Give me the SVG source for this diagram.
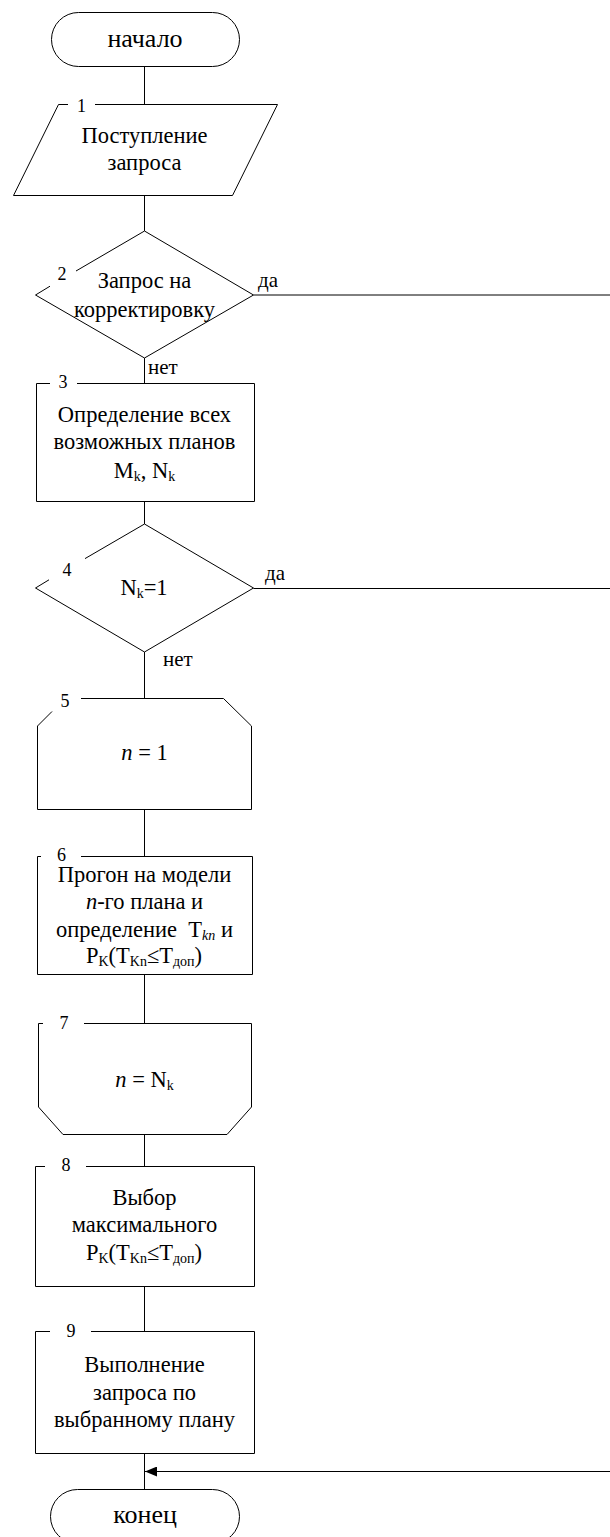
<svg xmlns="http://www.w3.org/2000/svg" width="610" height="1537" viewBox="0 0 610 1537" font-family="'Liberation Serif', 'Times New Roman', 'DejaVu Serif', serif">
<style>
.s{fill:none;stroke:#000;stroke-width:1}
text, tspan{font-family:'Liberation Serif','Times New Roman','DejaVu Serif',serif;fill:#000}
.t{font-size:22.5px;text-anchor:middle}
.tt{font-size:26px;text-anchor:middle}
.n{font-size:18px;text-anchor:middle}
.l{font-size:21px}
.i{font-style:italic}
.sub{font-size:14px}
</style>
<defs>
<marker id="ah" markerWidth="12" markerHeight="10" refX="12" refY="5" orient="auto" markerUnits="userSpaceOnUse">
<path d="M0,0 L12,5 L0,10 Z" fill="#000"/>
</marker>
</defs>
<g id="connectors">
<path class="s" d="M144.5,66 V104 M144.5,195 V231 M144.5,358 V383 M144.5,501 V524 M144.5,652 V698 M144.5,809 V856 M144.5,974 V1023 M144.5,1134 V1166 M144.5,1286 V1331 M144.5,1453 V1489"/>
<path class="s" d="M253.5,295 H611"/>
<path class="s" d="M253.5,588.5 H611"/>
<path class="s" d="M611,1471.5 H145" marker-end="url(#ah)"/>
<text class="l" x="258" y="287">да</text>
<text class="l" x="148" y="374">нет</text>
<text class="l" x="265" y="580">да</text>
<text class="l" x="163" y="666">нет</text>
</g>
<g id="start">
<rect class="s" x="51.5" y="12.5" width="188" height="54" rx="27" ry="27"/>
<text class="tt" x="145" y="47">начало</text>
</g>
<g id="node1">
<path class="s" d="M68,104.5 H58.5 L13.5,195.5 H232.5 L277.5,104.5 H95"/>
<text class="n" x="81.5" y="112">1</text>
<text class="t" x="144.5" y="143">Поступление</text>
<text class="t" x="144.5" y="170">запроса</text>
</g>
<g id="node2">
<path class="s" d="M50,286.2 L35.5,295 L144.5,358 L253.5,295 L144.5,231 L76,271"/>
<text class="n" x="62" y="280">2</text>
<text class="t" x="144.5" y="288">Запрос на</text>
<text class="t" x="144.5" y="317">корректировку</text>
</g>
<g id="node3">
<path class="s" d="M50,383.5 H36.5 V501.5 H254.5 V383.5 H77"/>
<text class="n" x="63" y="388">3</text>
<text class="t" x="144.5" y="422">Определение всех</text>
<text class="t" x="144.5" y="449">возможных планов</text>
<text class="t" x="144.5" y="478">M<tspan class="sub" dy="3">k</tspan><tspan dy="-3">, N</tspan><tspan class="sub" dy="3">k</tspan></text>
</g>
<g id="node4">
<path class="s" d="M49,579.8 L35.5,588 L144.5,652 L253.5,588 L144.5,524 L85,558.6"/>
<text class="n" x="67" y="576">4</text>
<text class="t" x="144" y="595">N<tspan class="sub" dy="3">k</tspan><tspan dy="-3">=1</tspan></text>
</g>
<g id="node5">
<path class="s" d="M52,711.5 L37.5,726 V809.5 H251.5 V726 L223.5,698.5 H81"/>
<text class="n" x="65" y="707">5</text>
<text class="t" x="144.5" y="760"><tspan class="i">n</tspan> = 1</text>
</g>
<g id="node6">
<path class="s" d="M41,856.5 H37.5 V974.5 H252.5 V856.5 H81"/>
<text class="n" x="61.5" y="861">6</text>
<text class="t" x="144.5" y="882">Прогон на модели</text>
<text class="t" x="144.5" y="909"><tspan class="i">n</tspan>-го плана и</text>
<text class="t" x="144.5" y="937" xml:space="preserve">определение  T<tspan class="sub i" dy="3">kn</tspan><tspan dy="-3"> и</tspan></text>
<text class="t" x="144" y="963">P<tspan class="sub" dy="3">K</tspan><tspan dy="-3">(T</tspan><tspan class="sub" dy="3">Kn</tspan><tspan dy="-3">≤T</tspan><tspan class="sub" dy="3">доп</tspan><tspan dy="-3">)</tspan></text>
</g>
<g id="node7">
<path class="s" d="M43,1023.5 H38.5 V1107 L63,1134.5 H227 L251.5,1107 V1023.5 H84"/>
<text class="n" x="64" y="1029">7</text>
<text class="t" x="144.5" y="1087"><tspan class="i">n</tspan> = N<tspan class="sub" dy="3">k</tspan></text>
</g>
<g id="node8">
<path class="s" d="M45,1166.5 H35.5 V1286.5 H254.5 V1166.5 H86"/>
<text class="n" x="66" y="1171">8</text>
<text class="t" x="144.5" y="1205">Выбор</text>
<text class="t" x="144.5" y="1232">максимального</text>
<text class="t" x="144" y="1260">P<tspan class="sub" dy="3">K</tspan><tspan dy="-3">(T</tspan><tspan class="sub" dy="3">Kn</tspan><tspan dy="-3">≤T</tspan><tspan class="sub" dy="3">доп</tspan><tspan dy="-3">)</tspan></text>
</g>
<g id="node9">
<path class="s" d="M50,1331.5 H35.5 V1453.5 H254.5 V1331.5 H91"/>
<text class="n" x="71" y="1337">9</text>
<text class="t" x="144.5" y="1372">Выполнение</text>
<text class="t" x="144.5" y="1400">запроса по</text>
<text class="t" x="144.5" y="1427">выбранному плану</text>
</g>
<g id="end">
<rect class="s" x="50.5" y="1489.5" width="189" height="54" rx="27" ry="27"/>
<text class="tt" x="145" y="1523">конец</text>
</g>
</svg>
